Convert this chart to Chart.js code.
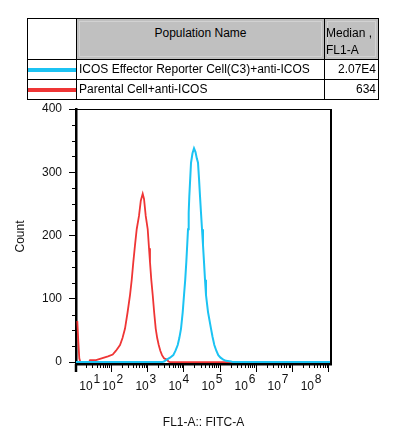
<!DOCTYPE html>
<html>
<head>
<meta charset="utf-8">
<script src="https://cdn.jsdelivr.net/npm/chart.js@4.4.1/dist/chart.umd.min.js"></script>
<style>
  body { margin: 0; background: #fff; font-family: "Liberation Sans", Arial, sans-serif; }
  #wrap { position: relative; width: 394px; height: 447px; overflow: hidden; }
  #chart { position: absolute; left: 0; top: 0; }
  table.pop { position: absolute; left: 27px; top: 18px; border-collapse: collapse; table-layout: fixed; font-size: 12px; color: #000; }
  table.pop td { border: 1px solid #000; padding: 0; white-space: nowrap; overflow: hidden; }
  table.pop tr.head td { height: 38px; vertical-align: top; line-height: 17px; padding-top: 6px; box-sizing: border-box; }
  table.pop tr.head td.grey { background: #c0c0c0; box-shadow: inset 0 0 0 2px #bfbfbf, inset 0 0 0 3px #d2d2d2; }
  table.pop tr.row td { height: 19px; line-height: 19px; }
  td.name { padding-left: 2px !important; }
  td.median { text-align: right; padding-right: 2px !important; }
  td.swatch { position: relative; }
  td.swatch span { position: absolute; left: 0; right: 0; top: 8px; height: 4px; }
</style>
</head>
<body>
<div id="wrap">
  <canvas id="chart" width="394" height="447"></canvas>
  <table class="pop">
    <colgroup><col style="width:49px"><col style="width:248px"><col style="width:54px"></colgroup>
    <tr class="head">
      <td></td>
      <td class="grey" style="text-align:center">Population Name</td>
      <td class="grey" style="padding-left:1px">Median ,<br>FL1-A</td>
    </tr>
    <tbody id="rows"></tbody>
  </table>
</div>
<script>
// x values are log10 of FL1-A (display decades), y values are event counts
const xDecades = [1, 2, 3, 4, 5, 6, 7, 8];
const yTicks = [0, 100, 200, 300, 400];

const cyanLogFl = [1.033, 3.409, 3.464, 3.539, 3.630, 3.721, 3.782, 3.843, 3.887, 3.934, 3.981, 4.017,
  4.050, 4.080, 4.105, 4.127, 4.146, 4.163, 4.188, 4.210, 4.251, 4.293, 4.334, 4.370, 4.403, 4.431,
  4.459, 4.486, 4.514, 4.541, 4.569, 4.597, 4.624, 4.680, 4.762, 4.804, 4.854, 4.909, 4.964, 5.025,
  5.102, 5.177, 5.315, 5.370, 8.077];
const cyanCount = [0, 0, 1, 4, 7, 11, 18, 27, 38, 53, 79, 106,
  130, 158, 185, 210, 236, 262, 290, 315, 330, 338, 332, 322, 315, 290,
  262, 236, 210, 185, 158, 130, 106, 79, 53, 40, 27, 18, 11, 7,
  4, 2, 1, 0, 0];

const redLogFl = [1.069, 1.097, 1.124, 1.152, 1.392, 1.420, 1.586, 1.696, 1.807, 1.917, 2.047, 2.138,
  2.249, 2.318, 2.387, 2.456, 2.525, 2.572, 2.616, 2.663, 2.710, 2.773, 2.823, 2.876, 2.912, 2.959,
  3.014, 3.050, 3.077, 3.113, 3.152, 3.193, 3.235, 3.276, 3.318, 3.362, 3.409, 3.464, 3.539, 3.588,
  3.630, 8.077];
const redCount = [65, 32, 6, 0, 0, 3, 3, 5, 7, 9, 12, 18,
  27, 38, 53, 78, 106, 130, 158, 185, 210, 231, 255, 266, 258, 231,
  210, 180, 158, 130, 106, 78, 53, 38, 27, 18, 11, 6, 4, 1,
  0, 0];

const populations = ['ICOS Effector Reporter Cell(C3)+anti-ICOS', 'Parental Cell+anti-ICOS'];
const medians = ['2.07E4', '634'];

const CYAN = '#1bc3f3';
const RED = '#ef3535';
const xMin = 1.033, xMax = 8.077;
const FONT = '"Liberation Sans", Arial, sans-serif';

// table rows
const rows = document.getElementById('rows');
[CYAN, RED].forEach((c, i) => {
    const tr = document.createElement('tr');
    tr.className = 'row';
    tr.innerHTML = '<td class="swatch"><span style="background:' + c + '"></span></td>' +
        '<td class="name">' + populations[i] + '</td><td class="median">' + medians[i] + '</td>';
    rows.appendChild(tr);
});

function toPoints(xs, ys) {
    return xs.map((v, i) => ({ x: v, y: ys[i] }));
}

// decade labels sit a bit left of their ticks, like the FlowJo export
function labelPos(n) {
    return n === 1 ? 1.31 : 1.945 + (n - 2) * 0.913;
}

const axisDecor = {
    id: 'axisDecor',
    afterDraw(chart) {
        const { ctx, chartArea: a, scales: { x, y } } = chart;
        ctx.save();
        ctx.strokeStyle = '#000';

        // top and right frame
        ctx.lineWidth = 1;
        ctx.beginPath();
        ctx.moveTo(a.left, a.top + 0.5);
        ctx.lineTo(a.right + 1, a.top + 0.5);
        ctx.stroke();
        ctx.lineWidth = 2;
        ctx.beginPath();
        ctx.moveTo(a.right, a.top);
        ctx.lineTo(a.right, a.bottom);
        ctx.stroke();

        // origin tick
        ctx.lineWidth = 2.5;
        ctx.beginPath();
        ctx.moveTo(a.left, a.bottom);
        ctx.lineTo(a.left, a.bottom + 8);
        ctx.stroke();

        // x ticks, log style
        ctx.lineWidth = 1;
        ctx.beginPath();
        const tick = (u, len) => {
            const px = Math.round(x.getPixelForValue(u)) + 0.5;
            ctx.moveTo(px, a.bottom);
            ctx.lineTo(px, a.bottom + len);
        };
        xDecades.forEach(n => {
            if (n > xMin && n <= xMax) tick(n, 8);
            for (let m = 2; m <= 9; m++) {
                const u = n + Math.log10(m);
                if (u > xMin && u < xMax) tick(u, 4);
            }
        });
        // y minor ticks
        for (let v = 25; v < 400; v += 25) {
            if (v % 100 === 0) continue;
            const py = Math.round(y.getPixelForValue(v)) + 0.5;
            ctx.moveTo(a.left - 4, py);
            ctx.lineTo(a.left, py);
        }
        ctx.stroke();

        // x labels 10^n
        ctx.fillStyle = '#111';
        ctx.font = '12px ' + FONT;
        xDecades.forEach(n => {
            const cx = x.getPixelForValue(labelPos(n));
            ctx.textAlign = 'center';
            ctx.fillText('10', cx, a.bottom + 26);
            ctx.textAlign = 'left';
            ctx.fillText(String(n), cx + 7.5, a.bottom + 19);
        });
        ctx.restore();
    }
};

Chart.defaults.font.family = FONT;
Chart.defaults.font.size = 12;
Chart.defaults.color = '#111';

new Chart(document.getElementById('chart'), {
    type: 'scatter',
    data: {
        datasets: [{
            label: populations[0],
            data: toPoints(cyanLogFl, cyanCount),
            borderColor: CYAN,
            borderWidth: 2,
            showLine: true,
            pointRadius: 0,
            tension: 0
        }, {
            label: populations[1],
            data: toPoints(redLogFl, redCount),
            borderColor: RED,
            borderWidth: 1.8,
            showLine: true,
            pointRadius: 0,
            tension: 0
        }]
    },
    options: {
        responsive: false,
        animation: false,
        layout: { padding: { top: 109, right: 63, left: 0, bottom: 0 } },
        plugins: { legend: { display: false }, tooltip: { enabled: false } },
        scales: {
            x: {
                type: 'linear',
                min: xMin,
                max: xMax,
                ticks: { display: false },
                grid: { display: false },
                border: { display: true, color: '#000', width: 2.5 },
                title: { display: true, text: 'FL1-A:: FITC-A', color: '#111', padding: { top: 0, bottom: 17 } },
                afterFit(s) { s.height = 83; }
            },
            y: {
                min: -3,
                max: 400,
                afterBuildTicks(s) { s.ticks = yTicks.map(v => ({ value: v })); },
                ticks: { padding: 7, color: '#111' },
                grid: { display: true, drawOnChartArea: false, drawTicks: true, tickLength: 7, tickColor: '#000', tickWidth: 1 },
                border: { display: true, color: '#000', width: 2.5 },
                title: { display: true, text: 'Count', color: '#111', padding: { top: 13, bottom: 0 } },
                afterFit(s) { s.width = 76; }
            }
        }
    },
    plugins: [axisDecor]
});
</script>
</body>
</html>
